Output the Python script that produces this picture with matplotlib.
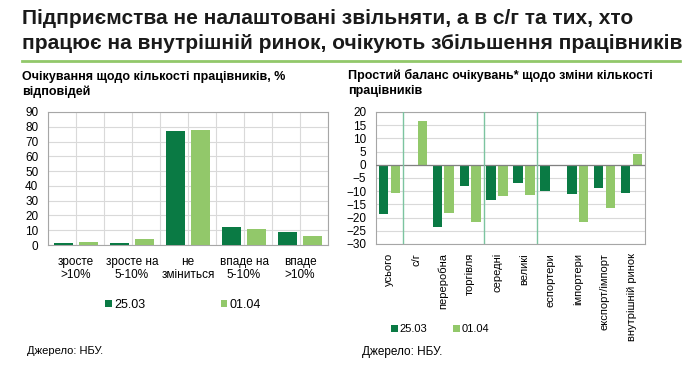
import numpy as np
import matplotlib
matplotlib.use('Agg')
import matplotlib.pyplot as plt
from matplotlib.lines import Line2D

plt.rcParams['font.family'] = ['Liberation Sans', 'DejaVu Sans']

DARK = '#0A7A44'
LIGHT = '#92C86A'
GRID = '#D9D9D9'
SPINE = '#A6A6A6'

# left chart: expectations on headcount, % of answers
left_cats = ['зросте\n>10%', 'зросте на\n5-10%', 'не\nзміниться', 'впаде на\n5-10%', 'впаде\n>10%']
left_2503 = [1.2, 1.2, 77.0, 12.3, 9.0]
left_0104 = [2.0, 4.0, 78.0, 10.7, 6.0]

# right chart: simple balance of expectations
right_cats = ['усього', 'с/г', 'переробна', 'торгівля', 'середні', 'великі',
              'еспортери', 'імпортери', 'експорт/імпорт', 'внутрішній ринок']
right_2503 = [-18.8, np.nan, -23.5, -7.9, -13.2, -6.9, -10.0, -11.2, -8.8, -10.7]
right_0104 = [-10.7, 16.5, -18.2, -21.5, -11.7, -11.6, np.nan, -21.5, -16.3, 4.0]
group_breaks = [0.5, 3.5, 5.5]

series_labels = ['25.03', '01.04']

fig = plt.figure(figsize=(6.9, 3.66), dpi=100)

# header
fig.text(22 / 690, 1 - 9 / 366,
         'Підприємства не налаштовані звільняти, а в с/г та тих, хто\n'
         'працює на внутрішній ринок, очікують збільшення працівників',
         ha='left', va='top', fontsize=15, fontweight='bold', linespacing=1.42,
         color='#1a1a1a')
fig.add_artist(Line2D([22 / 690, 680 / 690], [1 - 61 / 366, 1 - 61 / 366],
                      transform=fig.transFigure, color=LIGHT, lw=2))

fig.text(22 / 690, 1 - 71 / 366, 'Очікування щодо кількості працівників, %\nвідповідей',
         ha='left', va='top', fontsize=9, fontweight='bold', linespacing=1.3)
fig.text(348 / 690, 1 - 69 / 366, 'Простий баланс очікувань* щодо зміни кількості\nпрацівників',
         ha='left', va='top', fontsize=9, fontweight='bold', linespacing=1.3)

w = 0.35
off = 0.22

# left chart
ax1 = fig.add_axes([48 / 690, 1 - 245 / 366, 280 / 690, 133 / 366])
x1 = np.arange(len(left_cats))
b1 = ax1.bar(x1 - off, left_2503, w, color=DARK, zorder=3)
b2 = ax1.bar(x1 + off, left_0104, w, color=LIGHT, zorder=3)
ax1.set_xlim(-0.5, len(left_cats) - 0.5)
ax1.set_ylim(0, 90)
ax1.set_yticks(np.arange(0, 91, 10))
ax1.set_xticks(x1)
ax1.set_xticks(np.arange(-0.5, len(left_cats), 1), minor=True)
ax1.set_xticklabels(left_cats, fontsize=8.5, linespacing=1.1)
ax1.tick_params(axis='both', which='both', length=0, labelsize=8.5)
ax1.tick_params(axis='x', pad=8)
ax1.tick_params(axis='y', pad=7)
ax1.grid(axis='both', which='both', color=GRID, lw=0.8, zorder=0)
for s in ax1.spines.values():
    s.set_color(SPINE)
    s.set_linewidth(0.8)
ax1.legend([b1, b2], series_labels, ncol=2, loc='center left',
           bbox_to_anchor=(105 / 690, 1 - 305 / 366), bbox_transform=fig.transFigure,
           frameon=False, fontsize=9, handlelength=0.55, handleheight=0.55,
           handletextpad=0.2, columnspacing=6.0, borderpad=0, borderaxespad=0)

# right chart
ax2 = fig.add_axes([376 / 690, 1 - 244 / 366, 269 / 690, 132 / 366])
x2 = np.arange(len(right_cats))
c1 = ax2.bar(x2 - off, right_2503, w, color=DARK, zorder=3)
c2 = ax2.bar(x2 + off, right_0104, w, color=LIGHT, zorder=3)
ax2.set_xlim(-0.5, len(right_cats) - 0.5)
ax2.set_ylim(-30, 20)
ax2.set_yticks(np.arange(-30, 21, 5))
ax2.set_xticks(x2)
ax2.set_xticklabels(right_cats, rotation=90, fontsize=8)
ax2.tick_params(axis='both', length=0, labelsize=8.5)
ax2.tick_params(axis='x', pad=6.5, labelsize=8)
ax2.tick_params(axis='y', pad=7)
ax2.grid(axis='y', color=GRID, lw=0.8, zorder=0)
ax2.axhline(0, color='#808080', lw=0.9, zorder=4)
for xb in group_breaks:
    ax2.axvline(xb, color='#7CC4A0', lw=1, zorder=4)
for s in ax2.spines.values():
    s.set_color(SPINE)
    s.set_linewidth(0.8)
ax2.legend([c1, c2], series_labels, ncol=2, loc='center left',
           bbox_to_anchor=(391 / 690, 1 - 329 / 366), bbox_transform=fig.transFigure,
           frameon=False, fontsize=8, handlelength=0.6, handleheight=0.6,
           handletextpad=0.2, columnspacing=2.3, borderpad=0, borderaxespad=0)

fig.text(27 / 690, 1 - 351 / 366, 'Джерело: НБУ.', ha='left', va='center', fontsize=8)
fig.text(362 / 690, 1 - 352 / 366, 'Джерело: НБУ.', ha='left', va='center', fontsize=8.5)

fig.savefig('out.png', dpi=100)
